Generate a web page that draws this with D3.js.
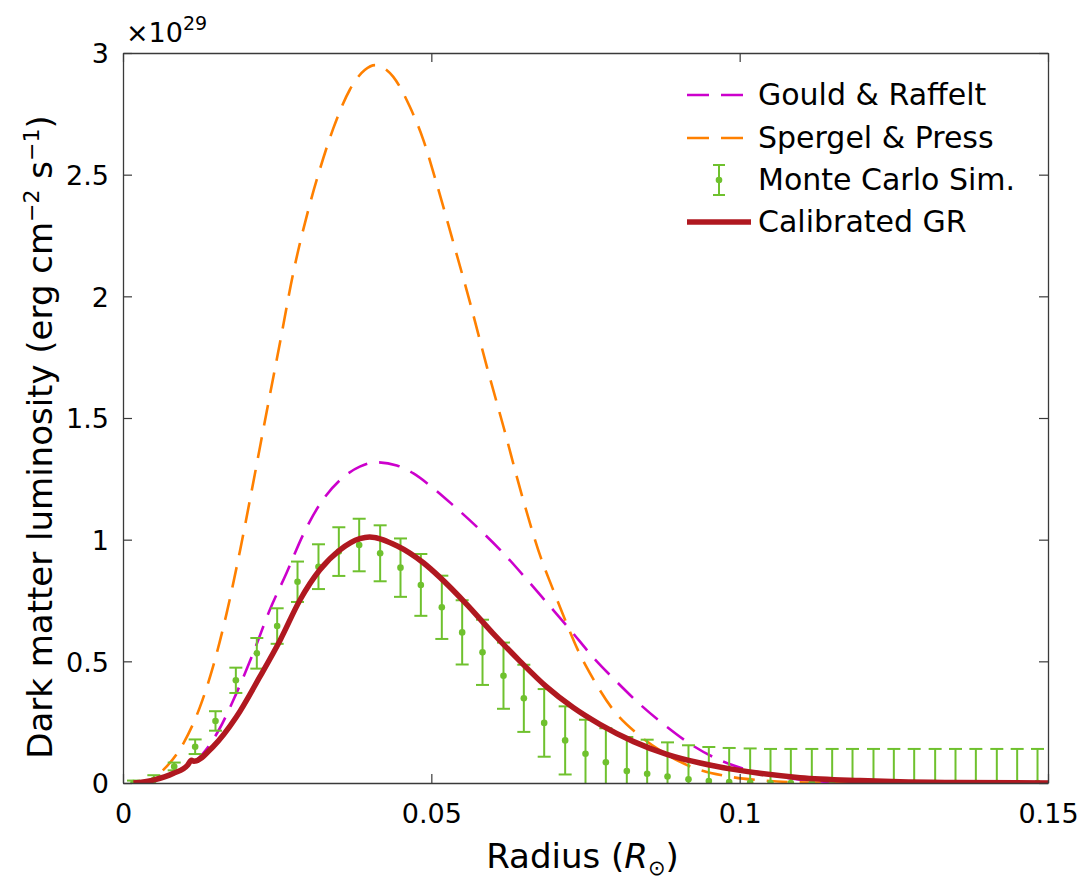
<!DOCTYPE html>
<html>
<head>
<meta charset="utf-8">
<script src="https://cdn.jsdelivr.net/npm/d3@7"></script>
<style>
  body { margin: 0; background: #fff; }
  text { font-family: "DejaVu Sans", sans-serif; fill: #000; }
</style>
</head>
<body>
<div id="chart"></div>
<script>
// Monte Carlo bins (radius in solar radii) and values (x 1e29)
var mcX = [0.0017, 0.0050, 0.0083, 0.0117, 0.0150, 0.0183, 0.0217, 0.0250, 0.0283, 0.0317,
           0.0350, 0.0383, 0.0417, 0.0450, 0.0483, 0.0517, 0.0550, 0.0583, 0.0617, 0.0650,
           0.0683, 0.0717, 0.0750, 0.0783, 0.0817, 0.0850, 0.0883, 0.0917, 0.0950, 0.0983,
           0.1017, 0.1050, 0.1083, 0.1117, 0.1150, 0.1183, 0.1217, 0.1250, 0.1283, 0.1317,
           0.1350, 0.1383, 0.1417, 0.1450, 0.1483];
var mcY = [0.000, 0.012, 0.068, 0.149, 0.255, 0.422, 0.533, 0.645, 0.827, 0.889,
           0.951, 0.978, 0.944, 0.885, 0.814, 0.722, 0.619, 0.537, 0.441, 0.348,
           0.247, 0.175, 0.120, 0.085, 0.049, 0.038, 0.027, 0.015, 0.008, 0.004,
           0.002, 0.000, 0.000, 0.000, 0.000, 0.000, 0.000, 0.000, 0.000, 0.000,
           0.000, 0.000, 0.000, 0.000, 0.000];
var mcErr = [0.010, 0.020, 0.016, 0.030, 0.040, 0.052, 0.063, 0.073, 0.083, 0.092,
             0.100, 0.108, 0.115, 0.120, 0.127, 0.130, 0.132, 0.134, 0.136, 0.138,
             0.139, 0.140, 0.140, 0.140, 0.140, 0.140, 0.140, 0.140, 0.140, 0.140,
             0.140, 0.140, 0.140, 0.140, 0.140, 0.140, 0.140, 0.140, 0.140, 0.140,
             0.140, 0.140, 0.140, 0.140, 0.140];

// Gould & Raffelt
var grfX = [0.0017, 0.0050, 0.0080, 0.0110, 0.0130, 0.0157, 0.0179, 0.0211, 0.0238, 0.0265,
            0.0292, 0.0319, 0.0352, 0.0384, 0.0410, 0.0444, 0.0471, 0.0498, 0.0536, 0.0579,
            0.0617, 0.0655, 0.0687, 0.0725, 0.0763, 0.0801, 0.0838, 0.0882, 0.0925, 0.0968,
            0.1000, 0.1040, 0.1080, 0.1120, 0.1180, 0.1250, 0.1500];
var grfY = [0.000, 0.010, 0.035, 0.075, 0.122, 0.225, 0.341, 0.533, 0.711, 0.862,
            1.020, 1.145, 1.245, 1.300, 1.318, 1.305, 1.272, 1.222, 1.140, 1.040,
            0.944, 0.836, 0.742, 0.630, 0.515, 0.415, 0.324, 0.231, 0.152, 0.094,
            0.064, 0.040, 0.020, 0.008, 0.002, 0.000, 0.000];

// Spergel & Press
var spX = [0.0017, 0.0044, 0.0065, 0.0098, 0.0125, 0.0146, 0.0168, 0.0190, 0.0211, 0.0233,
           0.0255, 0.0276, 0.0301, 0.0319, 0.0341, 0.0368, 0.0392, 0.0409, 0.0438, 0.0465,
           0.0487, 0.0509, 0.0533, 0.0563, 0.0590, 0.0617, 0.0649, 0.0678, 0.0696, 0.0717,
           0.0737, 0.0764, 0.0793, 0.0833, 0.0876, 0.0922, 0.0984, 0.1040, 0.1120, 0.1500];
var spY = [0.000, 0.012, 0.053, 0.163, 0.314, 0.478, 0.697, 0.958, 1.232, 1.526,
           1.815, 2.095, 2.360, 2.520, 2.690, 2.850, 2.930, 2.950, 2.903, 2.780,
           2.643, 2.460, 2.245, 1.972, 1.711, 1.464, 1.163, 0.923, 0.804, 0.670,
           0.550, 0.421, 0.307, 0.204, 0.126, 0.066, 0.026, 0.010, 0.002, 0.000];

// Calibrated GR
var calX = [0.0017, 0.0049, 0.0082, 0.0105, 0.0111, 0.0115, 0.0146, 0.0184, 0.0222, 0.0255,
            0.0287, 0.0319, 0.0352, 0.0384, 0.0400, 0.0444, 0.0487, 0.0514, 0.0557, 0.0600,
            0.0644, 0.0687, 0.0730, 0.0774, 0.0828, 0.0882, 0.0936, 0.0990, 0.1098, 0.1195,
            0.1260, 0.1350, 0.1500];
var calY = [0.000, 0.012, 0.040, 0.074, 0.094, 0.089, 0.149, 0.272, 0.437, 0.588,
            0.752, 0.875, 0.958, 1.004, 1.011, 0.975, 0.905, 0.845, 0.735, 0.615,
            0.500, 0.395, 0.310, 0.240, 0.170, 0.118, 0.082, 0.056, 0.022, 0.010,
            0.005, 0.002, 0.000];

var xTicks = [0, 0.05, 0.1, 0.15];
var xTickLabels = ["0", "0.05", "0.1", "0.15"];
var yTicks = [0, 0.5, 1, 1.5, 2, 2.5, 3];
var yTickLabels = ["0", "0.5", "1", "1.5", "2", "2.5", "3"];

var legendNames = ["Gould & Raffelt", "Spergel & Press", "Monte Carlo Sim.", "Calibrated GR"];

function init() {
    var w = 1083, h = 880;
    var left = 123, top = 53, right = 1048, bottom = 783;

    var cMag = "#cc00cc", cOra = "#ff8000", cGrn = "#6fc12e", cRed = "#b01820";
    var font = "'DejaVu Sans', sans-serif";

    var svg = d3.select("#chart").append("svg")
        .attr("width", w)
        .attr("height", h);

    var xScale = d3.scaleLinear().domain([0, 0.15]).range([left, right]);
    var yScale = d3.scaleLinear().domain([0, 3]).range([bottom, top]);

    svg.append("defs").append("clipPath").attr("id", "plotclip")
        .append("rect")
        .attr("x", left).attr("y", top)
        .attr("width", right - left).attr("height", bottom - top);

    var plot = svg.append("g").attr("clip-path", "url(#plotclip)");

    function zip(xs, ys) {
        return xs.map(function(x, i) { return [x, ys[i]]; });
    }

    var line = d3.line()
        .x(function(d) { return xScale(d[0]); })
        .y(function(d) { return yScale(d[1]); })
        .curve(d3.curveMonotoneX);

    // Gould & Raffelt
    plot.append("path")
        .datum(zip(grfX, grfY))
        .attr("d", line)
        .attr("fill", "none")
        .attr("stroke", cMag)
        .attr("stroke-width", 2.6)
        .attr("stroke-dasharray", "21,12");

    // Spergel & Press
    plot.append("path")
        .datum(zip(spX, spY))
        .attr("d", line)
        .attr("fill", "none")
        .attr("stroke", cOra)
        .attr("stroke-width", 2.6)
        .attr("stroke-dasharray", "21,12");

    // Monte Carlo error bars
    var mc = mcX.map(function(x, i) { return { x: x, y: mcY[i], e: mcErr[i] }; });
    var bars = plot.append("g").selectAll("g").data(mc).enter().append("g");
    bars.append("line")
        .attr("x1", function(d) { return xScale(d.x); })
        .attr("x2", function(d) { return xScale(d.x); })
        .attr("y1", function(d) { return yScale(d.y - d.e); })
        .attr("y2", function(d) { return yScale(d.y + d.e); })
        .attr("stroke", cGrn).attr("stroke-width", 2);
    bars.append("line")
        .attr("x1", function(d) { return xScale(d.x) - 6.5; })
        .attr("x2", function(d) { return xScale(d.x) + 6.5; })
        .attr("y1", function(d) { return yScale(d.y + d.e); })
        .attr("y2", function(d) { return yScale(d.y + d.e); })
        .attr("stroke", cGrn).attr("stroke-width", 2);
    bars.append("line")
        .attr("x1", function(d) { return xScale(d.x) - 6.5; })
        .attr("x2", function(d) { return xScale(d.x) + 6.5; })
        .attr("y1", function(d) { return yScale(d.y - d.e); })
        .attr("y2", function(d) { return yScale(d.y - d.e); })
        .attr("stroke", cGrn).attr("stroke-width", 2);
    bars.append("circle")
        .attr("cx", function(d) { return xScale(d.x); })
        .attr("cy", function(d) { return yScale(d.y); })
        .attr("r", 3.3)
        .attr("fill", cGrn);

    // Calibrated GR
    plot.append("path")
        .datum(zip(calX, calY))
        .attr("d", line)
        .attr("fill", "none")
        .attr("stroke", cRed)
        .attr("stroke-width", 5.5)
        .attr("stroke-linejoin", "round");

    // Axes box with inward ticks on all four sides
    var axisCol = "#3a3a3a";
    svg.append("g")
        .attr("transform", "translate(0," + bottom + ")")
        .call(d3.axisBottom(xScale).tickValues(xTicks).tickSizeInner(-9).tickSizeOuter(0)
            .tickFormat(function(d, i) { return xTickLabels[i]; }))
        .call(function(g) {
            g.select(".domain").attr("stroke", axisCol).attr("stroke-width", 1.3);
            g.selectAll(".tick line").attr("stroke", axisCol).attr("stroke-width", 1.2);
            g.selectAll(".tick text").attr("dy", null).attr("y", 40)
                .style("font-size", "27px").style("font-family", font);
        });
    svg.append("g")
        .attr("transform", "translate(0," + top + ")")
        .call(d3.axisTop(xScale).tickValues(xTicks).tickSizeInner(-9).tickSizeOuter(0).tickFormat(""))
        .call(function(g) {
            g.select(".domain").attr("stroke", axisCol).attr("stroke-width", 1.3);
            g.selectAll(".tick line").attr("stroke", axisCol).attr("stroke-width", 1.2);
        });
    svg.append("g")
        .attr("transform", "translate(" + left + ",0)")
        .call(d3.axisLeft(yScale).tickValues(yTicks).tickSizeInner(-9).tickSizeOuter(0)
            .tickFormat(function(d, i) { return yTickLabels[i]; }))
        .call(function(g) {
            g.select(".domain").attr("stroke", axisCol).attr("stroke-width", 1.3);
            g.selectAll(".tick text").attr("x", -14).attr("dy", "0.36em")
                .style("font-size", "27px").style("font-family", font);
            g.selectAll(".tick line").attr("stroke", axisCol).attr("stroke-width", 1.2);
        });
    svg.append("g")
        .attr("transform", "translate(" + right + ",0)")
        .call(d3.axisRight(yScale).tickValues(yTicks).tickSizeInner(-9).tickSizeOuter(0).tickFormat(""))
        .call(function(g) {
            g.select(".domain").attr("stroke", axisCol).attr("stroke-width", 1.3);
            g.selectAll(".tick line").attr("stroke", axisCol).attr("stroke-width", 1.2);
        });

    // Exponent label
    var expo = svg.append("text")
        .attr("x", left + 3)
        .attr("y", 42)
        .style("font-size", "27px");
    expo.append("tspan").text("\u00d710");
    expo.append("tspan").attr("dy", -12).style("font-size", "19px").text("29");

    // X label
    var xl = svg.append("text")
        .attr("x", (left + right) / 2 - 3)
        .attr("y", 868)
        .attr("text-anchor", "middle")
        .style("font-size", "34px");
    xl.append("tspan").text("Radius (");
    xl.append("tspan").style("font-style", "italic").text("R");
    xl.append("tspan").attr("dy", 7).style("font-size", "21px").text("\u2299");
    xl.append("tspan").attr("dy", -7).text(")");

    // Y label
    var yl = svg.append("text")
        .attr("transform", "translate(52,437) rotate(-90)")
        .attr("text-anchor", "middle")
        .style("font-size", "34px");
    yl.append("tspan").text("Dark matter luminosity (erg cm");
    yl.append("tspan").attr("dy", -13).style("font-size", "22px").text("\u22122");
    yl.append("tspan").attr("dy", 13).text(" s");
    yl.append("tspan").attr("dy", -13).style("font-size", "22px").text("\u22121");
    yl.append("tspan").attr("dy", 13).text(")");

    // Legend
    var legY = [95, 138, 180, 222];
    var leg = svg.append("g");
    leg.append("line").attr("x1", 687).attr("x2", 743).attr("y1", legY[0]).attr("y2", legY[0])
        .attr("stroke", cMag).attr("stroke-width", 2.6).attr("stroke-dasharray", "22,12");
    leg.append("line").attr("x1", 687).attr("x2", 743).attr("y1", legY[1]).attr("y2", legY[1])
        .attr("stroke", cOra).attr("stroke-width", 2.6).attr("stroke-dasharray", "22,12");
    leg.append("line").attr("x1", 719).attr("x2", 719).attr("y1", legY[2] - 15).attr("y2", legY[2] + 15)
        .attr("stroke", cGrn).attr("stroke-width", 2);
    leg.append("line").attr("x1", 713).attr("x2", 725).attr("y1", legY[2] - 15).attr("y2", legY[2] - 15)
        .attr("stroke", cGrn).attr("stroke-width", 2);
    leg.append("line").attr("x1", 713).attr("x2", 725).attr("y1", legY[2] + 15).attr("y2", legY[2] + 15)
        .attr("stroke", cGrn).attr("stroke-width", 2);
    leg.append("circle").attr("cx", 719).attr("cy", legY[2]).attr("r", 3.3).attr("fill", cGrn);
    leg.append("line").attr("x1", 687).attr("x2", 751).attr("y1", legY[3]).attr("y2", legY[3])
        .attr("stroke", cRed).attr("stroke-width", 5.5);

    leg.selectAll("text.lab").data(legendNames).enter().append("text")
        .attr("class", "lab")
        .attr("x", 758)
        .attr("y", function(d, i) { return legY[i] + 10; })
        .style("font-size", "30px")
        .text(function(d) { return d; });
}

window.onload = init;
</script>
</body>
</html>
